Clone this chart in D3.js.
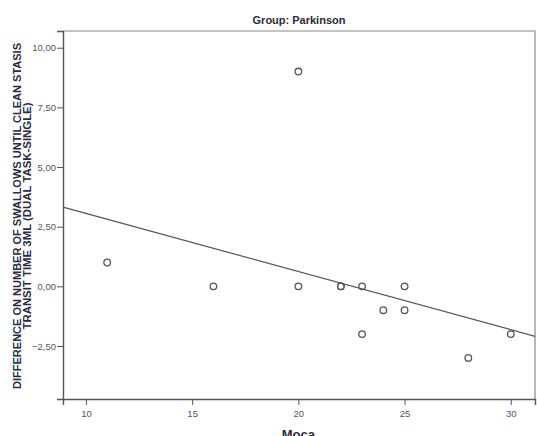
<!DOCTYPE html>
<html lang="en">
<head>
    <meta charset="UTF-8">
    <title>Group: Parkinson</title>
    <script src="https://cdnjs.cloudflare.com/ajax/libs/d3/7.8.5/d3.min.js"></script>
    <style>
        body {
            margin: 0;
            padding: 0;
            background-color: #fff;
            font-family: "Liberation Sans", Arial, sans-serif;
        }
        .tick text {
            fill: #555;
            font-size: 9.5px;
        }
        .tick line {
            stroke: #555;
        }
        .point {
            fill: none;
            stroke: #555;
            stroke-width: 1.3;
        }
    </style>
</head>
<body>
    <div id="chart"></div>

    <script>
        const width = 537;
        const height = 436;

        // Moca score vs. difference in number of swallows
        const moca = [11, 16, 20, 20, 22, 22, 23, 23, 24, 25, 25, 28, 30];
        const diff = [1, 0, 9, 0, 0, 0, 0, -2, -1, 0, -1, -3, -2];
        const xTicks = [10, 15, 20, 25, 30];
        const yTicks = [-2.5, 0, 2.5, 5, 7.5, 10];

        const margin = { top: 31, right: 2, bottom: 37, left: 63 };

        const svg = d3.select("#chart")
            .append("svg")
            .attr("width", width)
            .attr("height", height);

        const x = d3.scaleLinear()
            .domain([8.92, 31.14])
            .range([margin.left, width - margin.right]);

        const y = d3.scaleLinear()
            .domain([-4.72, 10.7])
            .range([height - margin.bottom, margin.top]);

        const fmt = v => d3.format(".2f")(v).replace(".", ",");

        // frame (top + right lighter)
        svg.append("path")
            .attr("d", `M${x.range()[0]},${y.range()[1]}H${x.range()[1]}V${y.range()[0]}`)
            .attr("fill", "none")
            .attr("stroke", "#888")
            .attr("stroke-width", 1.2);

        const xAxis = svg.append("g")
            .attr("transform", `translate(0,${y.range()[0]})`)
            .call(d3.axisBottom(x).tickValues(xTicks).tickSize(6).tickPadding(5).tickFormat(d3.format("d")));

        const yAxis = svg.append("g")
            .attr("transform", `translate(${x.range()[0]},0)`)
            .call(d3.axisLeft(y).tickValues(yTicks).tickSize(6).tickPadding(1).tickFormat(fmt));

        [xAxis, yAxis].forEach(a => {
            a.select(".domain").attr("stroke", "#555").attr("stroke-width", 1.4);
            a.attr("font-family", null).attr("font-size", null);
        });

        // least squares fit line
        const mx = d3.mean(moca), my = d3.mean(diff);
        const sxy = d3.sum(moca, (v, i) => (v - mx) * (diff[i] - my));
        const sxx = d3.sum(moca, v => (v - mx) * (v - mx));
        const slope = sxy / sxx;
        const intercept = my - slope * mx;
        const [x0, x1] = x.domain();

        svg.append("line")
            .attr("x1", x(x0))
            .attr("y1", y(intercept + slope * x0))
            .attr("x2", x(x1))
            .attr("y2", y(intercept + slope * x1))
            .attr("stroke", "#555")
            .attr("stroke-width", 1.2);

        svg.append("g")
            .selectAll("circle")
            .data(moca.map((m, i) => ({ m: m, d: diff[i] })))
            .enter()
            .append("circle")
            .attr("class", "point")
            .attr("cx", d => x(d.m))
            .attr("cy", d => y(d.d))
            .attr("r", 3.3);

        // title
        svg.append("text")
            .attr("x", (x.range()[0] + x.range()[1]) / 2)
            .attr("y", 24)
            .attr("text-anchor", "middle")
            .attr("font-size", "11px")
            .attr("font-weight", "bold")
            .attr("fill", "#2b2b3d")
            .text("Group: Parkinson");

        // x label
        svg.append("text")
            .attr("x", x(20))
            .attr("y", 439)
            .attr("text-anchor", "middle")
            .attr("font-size", "13px")
            .attr("font-weight", "bold")
            .attr("fill", "#2b2b3d")
            .text("Moca");

        // y label (two lines)
        const yMid = 216;
        const yLabel = svg.append("g")
            .attr("transform", `translate(0,${yMid}) rotate(-90)`)
            .attr("font-size", "10.5px")
            .attr("font-weight", "bold")
            .attr("fill", "#2b2b3d")
            .attr("text-anchor", "middle");

        yLabel.append("text")
            .attr("x", 0)
            .attr("y", 21)
            .attr("textLength", 346)
            .attr("lengthAdjust", "spacingAndGlyphs")
            .text("DIFFERENCE ON NUMBER OF SWALLOWS UNTIL CLEAN STASIS");

        yLabel.append("text")
            .attr("x", 0)
            .attr("y", 31)
            .attr("textLength", 227)
            .attr("lengthAdjust", "spacingAndGlyphs")
            .text("TRANSIT TIME 3ML (DUAL TASK-SINGLE)");
    </script>
</body>
</html>
